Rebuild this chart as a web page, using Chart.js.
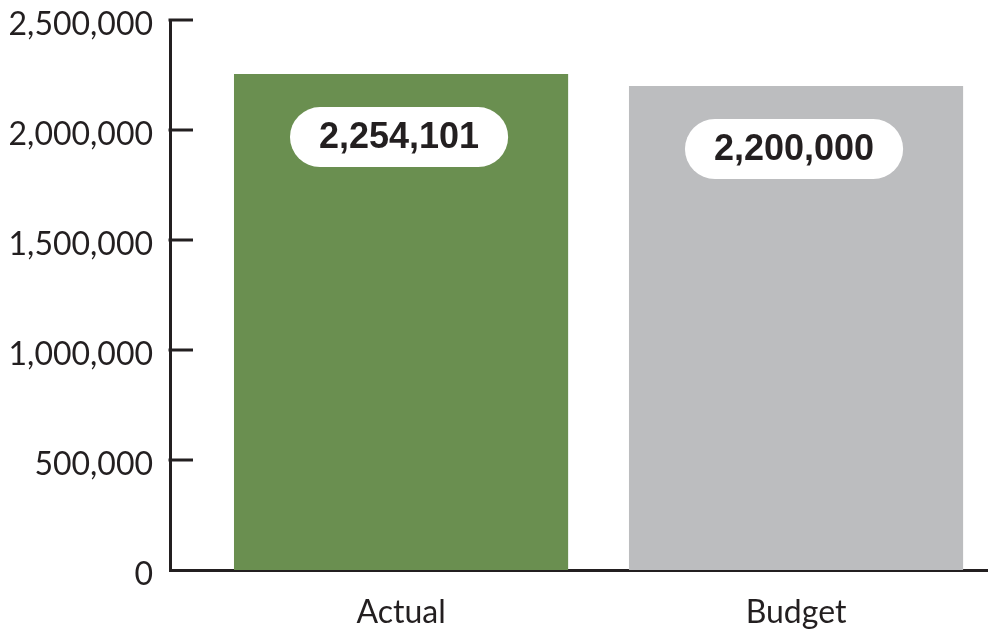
<!DOCTYPE html>
<html>
<head>
<meta charset="utf-8">
<script src="https://cdn.jsdelivr.net/npm/chart.js@4.4.1/dist/chart.umd.min.js"></script>
<style>
    body { margin: 0; background: #fff; }
    #wrap { width: 988px; height: 632px; }
</style>
</head>
<body>
<div id="wrap"><canvas id="budgetChart" width="988" height="632"></canvas></div>
<script>
// DATA
const categories = ['Actual', 'Budget'];
const values = [2254101, 2200000];
const barColors = ['#6a8f50', '#bcbdbf'];
const yTicks = [0, 500000, 1000000, 1500000, 2000000, 2500000];

const ink = '#231f20';

// FORMAT NUMBER
function formatNumber(n) {
    return n.toLocaleString('en-US');
}

// inward tick marks on y axis
const tickMarks = {
    id: 'tickMarks',
    afterDraw(chart) {
        const ctx = chart.ctx;
        const y = chart.scales.y;
        const left = chart.chartArea.left;
        ctx.save();
        ctx.strokeStyle = ink;
        ctx.lineWidth = 3;
        yTicks.forEach(v => {
            if (v === 0) return;
            const py = y.getPixelForValue(v);
            ctx.beginPath();
            ctx.moveTo(left - 1.5, py);
            ctx.lineTo(left + 23, py);
            ctx.stroke();
        });
        ctx.restore();
    }
};

// value labels in white pills
const pillLabels = {
    id: 'pillLabels',
    afterDatasetsDraw(chart) {
        const ctx = chart.ctx;
        const meta = chart.getDatasetMeta(0);
        ctx.save();
        ctx.font = 'bold 36px "Liberation Sans", Arial, sans-serif';
        ctx.textAlign = 'center';
        ctx.textBaseline = 'middle';
        meta.data.forEach((bar, i) => {
            const text = formatNumber(values[i]);
            const w = ctx.measureText(text).width + 58;
            const h = 60;
            const cx = bar.x - 2;
            const cy = bar.y + 63;
            ctx.fillStyle = '#ffffff';
            ctx.beginPath();
            ctx.roundRect(cx - w / 2, cy - h / 2, w, h, h / 2);
            ctx.fill();
            ctx.fillStyle = ink;
            ctx.fillText(text, cx, cy + 1);
        });
        ctx.restore();
    }
};

const ctx = document.getElementById('budgetChart').getContext('2d');
new Chart(ctx, {
    type: 'bar',
    data: {
        datasets: [{
            data: values.map((v, i) => ({ x: i, y: v })),
            backgroundColor: barColors,
            borderWidth: 0,
            categoryPercentage: 1,
            barPercentage: 0.846
        }]
    },
    options: {
        responsive: false,
        animation: false,
        layout: { padding: { top: 20, right: 0, left: 0, bottom: 0 } },
        plugins: {
            legend: { display: false },
            tooltip: { enabled: false }
        },
        scales: {
            x: {
                type: 'linear',
                min: -0.585,
                max: 1.486,
                offset: false,
                bounds: 'data',
                grace: 0,
                grid: { display: false, drawTicks: false, offset: false },
                border: { display: true, color: ink, width: 3 },
                afterBuildTicks: scale => {
                    scale.ticks = categories.map((c, i) => ({ value: i }));
                },
                afterFit: scale => {
                    scale.height = 62;
                    scale.paddingLeft = 0;
                    scale.paddingRight = 0;
                },
                ticks: {
                    color: ink,
                    padding: 23,
                    font: { family: 'Lato', size: 32 },
                    callback: v => categories[v]
                }
            },
            y: {
                min: 0,
                max: 2500000,
                grid: { display: false, drawTicks: false },
                border: { display: true, color: ink, width: 3 },
                afterBuildTicks: scale => {
                    scale.ticks = yTicks.map(v => ({ value: v }));
                },
                afterFit: scale => {
                    scale.width = 170;
                    scale.paddingTop = 0;
                    scale.paddingBottom = 0;
                },
                ticks: {
                    color: ink,
                    padding: 17,
                    labelOffset: 5,
                    font: { family: 'Lato', size: 32 },
                    callback: v => formatNumber(v)
                }
            }
        }
    },
    plugins: [tickMarks, pillLabels]
});
</script>
</body>
</html>
